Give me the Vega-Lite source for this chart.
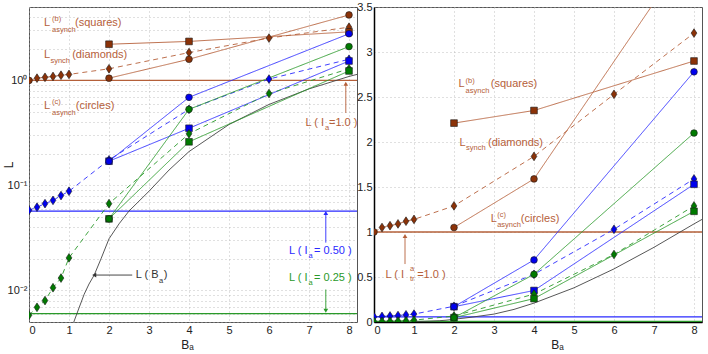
{
  "$schema": "https://vega.github.io/schema/vega-lite/v6.json",
  "autosize": {"type": "pad"},
  "padding": {"left": 1, "top": 0, "right": 0, "bottom": 0},
  "background": "white",
  "spacing": 17,
  "bounds": "flush",
  "config": {
    "font": "Liberation Sans",
    "view": {"stroke": "#555", "strokeWidth": 1},
    "axis": {
      "grid": true, "gridColor": "#b0b0b0", "gridDash": [1, 3], "gridWidth": 0.8,
      "ticks": false, "domain": false, "labelFontSize": 11, "labelColor": "#222",
      "titleFontSize": 12, "titleFontWeight": "normal", "titleColor": "#222", "labelPadding": 3
    }
  },
  "datasets": {
    "series": [
      {"s": "bd", "grp": "brown", "ls": "dash", "mk": "circle", "B": 0, "L": 1.0},
      {"s": "bd", "grp": "brown", "ls": "dash", "mk": "diamond", "B": 0.2, "L": 1.05},
      {"s": "bd", "grp": "brown", "ls": "dash", "mk": "diamond", "B": 0.4, "L": 1.07},
      {"s": "bd", "grp": "brown", "ls": "dash", "mk": "diamond", "B": 0.6, "L": 1.09},
      {"s": "bd", "grp": "brown", "ls": "dash", "mk": "diamond", "B": 0.8, "L": 1.12},
      {"s": "bd", "grp": "brown", "ls": "dash", "mk": "diamond", "B": 1.0, "L": 1.14},
      {"s": "bd", "grp": "brown", "ls": "dash", "mk": "diamond", "B": 2, "L": 1.29},
      {"s": "bd", "grp": "brown", "ls": "dash", "mk": "diamond", "B": 4, "L": 1.84},
      {"s": "bd", "grp": "brown", "ls": "dash", "mk": "diamond", "B": 6, "L": 2.53},
      {"s": "bd", "grp": "brown", "ls": "dash", "mk": "diamond", "B": 8, "L": 3.21},
      {"s": "bs", "grp": "brown", "ls": "solid", "mk": "square", "B": 2, "L": 2.21},
      {"s": "bs", "grp": "brown", "ls": "solid", "mk": "square", "B": 4, "L": 2.35},
      {"s": "bs", "grp": "brown", "ls": "solid", "mk": "square", "B": 8, "L": 2.9},
      {"s": "bc", "grp": "brown", "ls": "solid", "mk": "circle", "B": 2, "L": 1.05},
      {"s": "bc", "grp": "brown", "ls": "solid", "mk": "circle", "B": 4, "L": 1.59},
      {"s": "bc", "grp": "brown", "ls": "solid", "mk": "circle", "B": 8, "L": 4.2},
      {"s": "ud", "grp": "blue", "ls": "dash", "mk": "diamond", "B": 0, "L": 0.058},
      {"s": "ud", "grp": "blue", "ls": "dash", "mk": "diamond", "B": 0.2, "L": 0.062},
      {"s": "ud", "grp": "blue", "ls": "dash", "mk": "diamond", "B": 0.4, "L": 0.067},
      {"s": "ud", "grp": "blue", "ls": "dash", "mk": "diamond", "B": 0.6, "L": 0.072},
      {"s": "ud", "grp": "blue", "ls": "dash", "mk": "diamond", "B": 0.8, "L": 0.08},
      {"s": "ud", "grp": "blue", "ls": "dash", "mk": "diamond", "B": 1.0, "L": 0.088},
      {"s": "ud", "grp": "blue", "ls": "dash", "mk": "diamond", "B": 2, "L": 0.175},
      {"s": "ud", "grp": "blue", "ls": "dash", "mk": "diamond", "B": 4, "L": 0.53},
      {"s": "ud", "grp": "blue", "ls": "dash", "mk": "diamond", "B": 6, "L": 1.03},
      {"s": "ud", "grp": "blue", "ls": "dash", "mk": "diamond", "B": 8, "L": 1.59},
      {"s": "us", "grp": "blue", "ls": "solid", "mk": "square", "B": 2, "L": 0.17},
      {"s": "us", "grp": "blue", "ls": "solid", "mk": "square", "B": 4, "L": 0.35},
      {"s": "us", "grp": "blue", "ls": "solid", "mk": "square", "B": 8, "L": 1.53},
      {"s": "uc", "grp": "blue", "ls": "solid", "mk": "circle", "B": 2, "L": 0.17},
      {"s": "uc", "grp": "blue", "ls": "solid", "mk": "circle", "B": 4, "L": 0.69},
      {"s": "uc", "grp": "blue", "ls": "solid", "mk": "circle", "B": 8, "L": 2.78},
      {"s": "gd", "grp": "green", "ls": "dash", "mk": "diamond", "B": 0, "L": 0.0058},
      {"s": "gd", "grp": "green", "ls": "dash", "mk": "diamond", "B": 0.2, "L": 0.0069},
      {"s": "gd", "grp": "green", "ls": "dash", "mk": "diamond", "B": 0.4, "L": 0.008},
      {"s": "gd", "grp": "green", "ls": "dash", "mk": "diamond", "B": 0.6, "L": 0.0106},
      {"s": "gd", "grp": "green", "ls": "dash", "mk": "diamond", "B": 0.8, "L": 0.0131},
      {"s": "gd", "grp": "green", "ls": "dash", "mk": "diamond", "B": 1.0, "L": 0.0204},
      {"s": "gd", "grp": "green", "ls": "dash", "mk": "diamond", "B": 2, "L": 0.067},
      {"s": "gd", "grp": "green", "ls": "dash", "mk": "diamond", "B": 4, "L": 0.31},
      {"s": "gd", "grp": "green", "ls": "dash", "mk": "diamond", "B": 6, "L": 0.75},
      {"s": "gd", "grp": "green", "ls": "dash", "mk": "diamond", "B": 8, "L": 1.29},
      {"s": "gs", "grp": "green", "ls": "solid", "mk": "square", "B": 2, "L": 0.048},
      {"s": "gs", "grp": "green", "ls": "solid", "mk": "square", "B": 4, "L": 0.26},
      {"s": "gs", "grp": "green", "ls": "solid", "mk": "square", "B": 8, "L": 1.23},
      {"s": "gc", "grp": "green", "ls": "solid", "mk": "circle", "B": 2, "L": 0.048},
      {"s": "gc", "grp": "green", "ls": "solid", "mk": "circle", "B": 4, "L": 0.53},
      {"s": "gc", "grp": "green", "ls": "solid", "mk": "circle", "B": 8, "L": 2.1}
    ],
    "curve": [
      {"B": 1.05, "L": 0.003}, {"B": 1.12, "L": 0.005}, {"B": 1.25, "L": 0.0068}, {"B": 1.38, "L": 0.0092},
      {"B": 1.5, "L": 0.0115}, {"B": 1.63, "L": 0.014}, {"B": 1.8, "L": 0.02}, {"B": 2, "L": 0.031},
      {"B": 2.25, "L": 0.043}, {"B": 2.5, "L": 0.057}, {"B": 3, "L": 0.088}, {"B": 3.5, "L": 0.14},
      {"B": 4, "L": 0.21}, {"B": 5, "L": 0.38}, {"B": 6, "L": 0.59}, {"B": 7, "L": 0.83},
      {"B": 8, "L": 1.09}, {"B": 8.2, "L": 1.14}
    ],
    "hlines": [
      {"grp": "brown", "L": 1.0},
      {"grp": "blue", "L": 0.057},
      {"grp": "green", "L": 0.006}
    ],
    "annL": [
      {"B": 0.375, "L": 3.52, "t": "L", "k": "main", "grp": "brown"},
      {"B": 0.575, "L": 3.85, "t": "(b)", "k": "sub", "grp": "brown"},
      {"B": 0.575, "L": 3.05, "t": "asynch", "k": "sub", "grp": "brown"},
      {"B": 1.15, "L": 3.52, "t": "(squares)", "k": "main", "grp": "brown"},
      {"B": 0.375, "L": 1.73, "t": "L", "k": "main", "grp": "brown"},
      {"B": 0.535, "L": 1.53, "t": "synch", "k": "sub", "grp": "brown"},
      {"B": 1.08, "L": 1.73, "t": "(diamonds)", "k": "main", "grp": "brown"},
      {"B": 0.375, "L": 0.566, "t": "L", "k": "main", "grp": "brown"},
      {"B": 0.575, "L": 0.619, "t": "(c)", "k": "sub", "grp": "brown"},
      {"B": 0.575, "L": 0.491, "t": "asynch", "k": "sub", "grp": "brown"},
      {"B": 1.17, "L": 0.566, "t": "(circles)", "k": "main", "grp": "brown"},
      {"B": 6.915, "L": 0.395, "t": "L ( I", "k": "main", "grp": "brown"},
      {"B": 7.4, "L": 0.352, "t": "a", "k": "sub", "grp": "brown"},
      {"B": 7.5, "L": 0.395, "t": "=1.0 )", "k": "main", "grp": "brown"},
      {"B": 6.5, "L": 0.0237, "t": "L ( I", "k": "main", "grp": "blue"},
      {"B": 6.99, "L": 0.0213, "t": "a", "k": "sub", "grp": "blue"},
      {"B": 7.125, "L": 0.0237, "t": "= 0.50 )", "k": "main", "grp": "blue"},
      {"B": 6.5, "L": 0.013, "t": "L ( I", "k": "main", "grp": "green"},
      {"B": 6.99, "L": 0.0117, "t": "a", "k": "sub", "grp": "green"},
      {"B": 7.125, "L": 0.013, "t": "= 0.25 )", "k": "main", "grp": "green"},
      {"B": 2.67, "L": 0.014, "t": "L ( B", "k": "main", "grp": "black"},
      {"B": 3.25, "L": 0.0123, "t": "a", "k": "sub", "grp": "black"},
      {"B": 3.37, "L": 0.014, "t": ")", "k": "main", "grp": "black"}
    ],
    "arrL": [
      {"B": 7.92, "L": 0.49, "B2": 7.92, "L2": 0.93, "grp": "brown", "head": "triangle-up"},
      {"B": 7.42, "L": 0.0285, "B2": 7.42, "L2": 0.0546, "grp": "blue", "head": "triangle-up"},
      {"B": 7.42, "L": 0.0102, "B2": 7.42, "L2": 0.0064, "grp": "green", "head": "triangle-down"},
      {"B": 2.58, "L": 0.014, "B2": 1.63, "L2": 0.014, "grp": "black", "head": "triangle-left"}
    ],
    "annR": [
      {"B": 2.11, "L": 2.64, "t": "L", "k": "main", "grp": "brown"},
      {"B": 2.29, "L": 2.68, "t": "(b)", "k": "sub", "grp": "brown"},
      {"B": 2.29, "L": 2.57, "t": "asynch", "k": "sub", "grp": "brown"},
      {"B": 2.92, "L": 2.64, "t": "(squares)", "k": "main", "grp": "brown"},
      {"B": 2.14, "L": 1.99, "t": "L", "k": "main", "grp": "brown"},
      {"B": 2.3, "L": 1.93, "t": "synch", "k": "sub", "grp": "brown"},
      {"B": 2.85, "L": 1.99, "t": "(diamonds)", "k": "main", "grp": "brown"},
      {"B": 2.92, "L": 1.14, "t": "L", "k": "main", "grp": "brown"},
      {"B": 3.08, "L": 1.186, "t": "(c)", "k": "sub", "grp": "brown"},
      {"B": 3.08, "L": 1.074, "t": "asynch", "k": "sub", "grp": "brown"},
      {"B": 3.67, "L": 1.14, "t": "(circles)", "k": "main", "grp": "brown"},
      {"B": 0.29, "L": 0.522, "t": "L ( I", "k": "main", "grp": "brown"},
      {"B": 0.9, "L": 0.586, "t": "a", "k": "sub", "grp": "brown"},
      {"B": 0.9, "L": 0.474, "t": "tr", "k": "sub", "grp": "brown"},
      {"B": 1.08, "L": 0.522, "t": "=1.0 )", "k": "main", "grp": "brown"}
    ],
    "arrR": [
      {"B": 0.775, "L": 0.644, "B2": 0.775, "L2": 0.956, "grp": "brown", "head": "triangle-up"}
    ]
  },
  "hconcat": [
    {
      "width": 328, "height": 315,
      "encoding": {
        "x": {"field": "B", "type": "quantitative",
              "scale": {"domain": [0, 8.2], "nice": false},
              "axis": {"title": "Bₐ", "values": [0,1,2,3,4,5,6,7,8], "titleX": 158, "titlePadding": 4, "labelPadding": 2}},
        "y": {"field": "L", "type": "quantitative",
              "scale": {"type": "log", "domain": [0.005, 5], "nice": false},
              "axis": {"title": "L", "titleX": -14, "labelPadding": 2, "labelOverlap": false,
                       "values": [0.005,0.006,0.007,0.008,0.009,0.01,0.02,0.03,0.04,0.05,0.06,0.07,0.08,0.09,0.1,0.2,0.3,0.4,0.5,0.6,0.7,0.8,0.9,1,2,3,4,5],
                       "labelExpr": "datum.value==1?'10⁰':datum.value==0.1?'10⁻¹':datum.value==0.01?'10⁻²':''"}}
      },
      "layer": [
        {"data": {"name": "hlines"}, "mark": {"type": "rule", "strokeWidth": 1.3},
         "encoding": {"x": null, "color": {"field": "grp", "type": "nominal", "legend": null,
           "scale": {"domain": ["brown","blue","green","black"], "range": ["#b5603a","#2a2aff","#2a9a2a","#333333"]}}}},
        {"data": {"name": "curve"}, "mark": {"type": "line", "clip": true, "color": "#444", "strokeWidth": 0.9}},
        {"data": {"name": "series"}, "mark": {"type": "line", "clip": true, "strokeWidth": 0.9},
         "encoding": {"detail": {"field": "s"}, "color": {"field": "grp", "type": "nominal", "legend": null},
           "strokeDash": {"field": "ls", "type": "nominal", "legend": null,
             "scale": {"domain": ["solid","dash"], "range": [[1,0],[5,4]]}}}},
        {"data": {"name": "series"}, "mark": {"type": "point", "filled": true, "clip": true, "size": 45, "stroke": "#1a1a1a", "strokeWidth": 0.6, "opacity": 1},
         "encoding": {"fill": {"field": "grp", "type": "nominal", "legend": null,
             "scale": {"domain": ["brown","blue","green","black"], "range": ["#8b3208","#0000ee","#007a00","#000000"]}},
           "shape": {"field": "mk", "type": "nominal", "legend": null,
             "scale": {"domain": ["circle","square","diamond"], "range": ["circle","square","M0,-1.3L0.85,0L0,1.3L-0.85,0Z"]}}}},
        {"data": {"name": "arrL"}, "mark": {"type": "rule", "strokeWidth": 0.9},
         "encoding": {"x2": {"field": "B2"}, "y2": {"field": "L2"}, "color": {"field": "grp", "type": "nominal", "legend": null}}},
        {"data": {"name": "arrL"}, "mark": {"type": "point", "filled": true, "size": 22, "opacity": 1},
         "encoding": {"x": {"field": "B2", "type": "quantitative"}, "y": {"field": "L2", "type": "quantitative"},
           "color": {"field": "grp", "type": "nominal", "legend": null},
           "shape": {"field": "head", "type": "nominal", "legend": null, "scale": {"domain": ["triangle-up","triangle-down","triangle-left"], "range": ["triangle-up","triangle-down","triangle-left"]}}}},
        {"data": {"name": "annL"}, "transform": [{"filter": {"field": "k", "equal": "main"}}],
         "mark": {"type": "text", "align": "left", "baseline": "middle", "fontSize": 11},
         "encoding": {"text": {"field": "t"}, "color": {"field": "grp", "type": "nominal", "legend": null}}},
        {"data": {"name": "annL"}, "transform": [{"filter": {"field": "k", "equal": "sub"}}],
         "mark": {"type": "text", "align": "left", "baseline": "middle", "fontSize": 7.5},
         "encoding": {"text": {"field": "t"}, "color": {"field": "grp", "type": "nominal", "legend": null}}}
      ],
      "resolve": {"scale": {"shape": "independent"}}
    },
    {
      "width": 328, "height": 315,
      "encoding": {
        "x": {"field": "B", "type": "quantitative",
              "scale": {"domain": [0, 8.2], "nice": false},
              "axis": {"title": "Bₐ", "values": [0,1,2,3,4,5,6,7,8], "titleX": 183, "titlePadding": 4, "labelPadding": 2, "domain": true, "domainColor": "#000", "domainWidth": 1.5}},
        "y": {"field": "L", "type": "quantitative",
              "scale": {"domain": [0, 3.5], "nice": false},
              "axis": {"title": null, "values": [0,0.5,1,1.5,2,2.5,3,3.5], "format": ".1~f", "labelPadding": 2, "domain": true, "domainColor": "#000", "domainWidth": 1.5}}
      },
      "layer": [
        {"data": {"name": "hlines"}, "mark": {"type": "rule", "strokeWidth": 1.3},
         "encoding": {"x": null, "color": {"field": "grp", "type": "nominal", "legend": null,
           "scale": {"domain": ["brown","blue","green","black"], "range": ["#c08468","#2a2aff","#1a8a1a","#333333"]}},
           "strokeWidth": {"field": "grp", "type": "nominal", "legend": null, "scale": {"domain": ["brown","blue","green"], "range": [2.5, 1.2, 2]}}}},
        {"data": {"name": "curve"}, "mark": {"type": "line", "clip": true, "color": "#444", "strokeWidth": 0.9}},
        {"data": {"name": "series"}, "mark": {"type": "line", "clip": true, "strokeWidth": 0.9},
         "encoding": {"detail": {"field": "s"}, "color": {"field": "grp", "type": "nominal", "legend": null},
           "strokeDash": {"field": "ls", "type": "nominal", "legend": null,
             "scale": {"domain": ["solid","dash"], "range": [[1,0],[5,4]]}}}},
        {"data": {"name": "series"}, "mark": {"type": "point", "filled": true, "clip": true, "size": 45, "stroke": "#1a1a1a", "strokeWidth": 0.6, "opacity": 1},
         "encoding": {"fill": {"field": "grp", "type": "nominal", "legend": null,
             "scale": {"domain": ["brown","blue","green","black"], "range": ["#8b3208","#0000ee","#007a00","#000000"]}},
           "shape": {"field": "mk", "type": "nominal", "legend": null,
             "scale": {"domain": ["circle","square","diamond"], "range": ["circle","square","M0,-1.3L0.85,0L0,1.3L-0.85,0Z"]}}}},
        {"data": {"name": "arrR"}, "mark": {"type": "rule", "strokeWidth": 0.9},
         "encoding": {"x2": {"field": "B2"}, "y2": {"field": "L2"}, "color": {"field": "grp", "type": "nominal", "legend": null}}},
        {"data": {"name": "arrR"}, "mark": {"type": "point", "filled": true, "size": 22, "opacity": 1},
         "encoding": {"x": {"field": "B2", "type": "quantitative"}, "y": {"field": "L2", "type": "quantitative"},
           "color": {"field": "grp", "type": "nominal", "legend": null},
           "shape": {"field": "head", "type": "nominal", "legend": null, "scale": {"domain": ["triangle-up"], "range": ["triangle-up"]}}}},
        {"data": {"name": "annR"}, "transform": [{"filter": {"field": "k", "equal": "main"}}],
         "mark": {"type": "text", "align": "left", "baseline": "middle", "fontSize": 11},
         "encoding": {"text": {"field": "t"}, "color": {"field": "grp", "type": "nominal", "legend": null}}},
        {"data": {"name": "annR"}, "transform": [{"filter": {"field": "k", "equal": "sub"}}],
         "mark": {"type": "text", "align": "left", "baseline": "middle", "fontSize": 7.5},
         "encoding": {"text": {"field": "t"}, "color": {"field": "grp", "type": "nominal", "legend": null}}}
      ],
      "resolve": {"scale": {"shape": "independent"}}
    }
  ]
}
